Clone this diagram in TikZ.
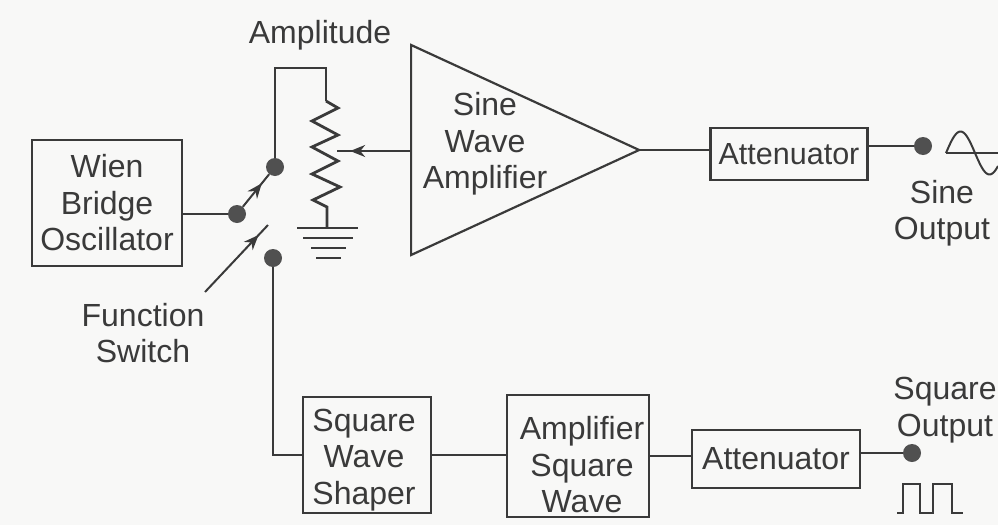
\documentclass[tikz,border=0pt]{standalone}
\usepackage{fontspec}
\setmainfont{Liberation Sans}
\usepackage{tikz}
\usetikzlibrary{calc,shapes.geometric,arrows.meta,decorations.markings}
\definecolor{inkgray}{HTML}{3A3A3A}
\definecolor{dotgray}{HTML}{505050}
\definecolor{papergray}{HTML}{F8F8F7}
\tikzstyle{wire} = [line width=2pt, draw=inkgray]
\tikzstyle{block} = [rectangle, draw=inkgray, line width=2.2pt, inner sep=0pt, align=center, text=inkgray]
\tikzstyle{label} = [align=center, inner sep=0pt, text=inkgray]
\tikzstyle{terminal} = [circle, fill=dotgray, minimum size=18pt, inner sep=0pt]
\tikzstyle{midtip} = [postaction={decorate}, decoration={markings, mark=at position #1 with {\arrow{Stealth[length=15pt,width=12pt]}}}]

\begin{document}
\begin{tikzpicture}[x=1pt, y=-1pt, font=\fontsize{32}{36.5}\selectfont]
                \fill [papergray] (0,0) rectangle (998,525);
                \useasboundingbox (0,0) rectangle (998,525);

                \node (wien) [block, minimum width=150pt, minimum height=126pt] at (107,203) {Wien\\Bridge\\Oscillator};
                \node (shaper) [block, minimum width=128pt, minimum height=116pt] at (367,455) {};
                \node (ampsq) [block, minimum width=142pt, minimum height=122pt] at (578,456) {};
                \node (attsq) [block, minimum width=168pt, minimum height=58pt] at (776,459) {Attenuator};
                \node (attsin) [block, minimum width=157pt, minimum height=52pt, font=\fontsize{30.5}{36}\selectfont] at (789,154) {Attenuator};
                \node (ampsin) [isosceles triangle, isosceles triangle stretches, draw=inkgray, line width=2.2pt, minimum width=210pt, minimum height=228pt, inner sep=0pt, anchor=apex] at (642,150) {};

                \node (common) [terminal] at (237,214) {};
                \node (upper) [terminal] at (275,167) {};
                \node (lower) [terminal] at (273,258) {};
                \node (sinout) [terminal] at (923,146) {};
                \node (squout) [terminal] at (912,453) {};

                \node (amplitude) [label] at (320,35) {Amplitude};
                \node (sinetext) [label] at (485,144) {Sine\\Wave\\Amplifier};
                \node (shapertext) [label] at (364,460) {Square\\Wave\\Shaper};
                \node (ampsqtext) [label] at (582,465) {Amplifier\\Square\\Wave};
                \node (function) [label] at (143,333) {Function\\Switch};
                \node (sinelabel) [label] at (942,213) {Sine\\Output};
                \node (squlabel) [label] at (945,410) {Square\\Output};

                \coordinate (rtop) at (326,68);
                \coordinate (gnd) at (327,228);
                \coordinate (wiper) at (337,151);
                \coordinate (pointer) at (205,292);
                \coordinate (blade) at (268,225);

                \draw [wire] (wien.east |- common) -- (common);
                \draw [wire, midtip=0.72] (common) -- (upper);
                \draw [wire] (upper) |- (rtop) -- ++(0,33);
                \draw [wire, line width=2.8pt] ($(rtop)+(0,33)$) -- ++(12,7) -- ++(-26,13) -- ++(26,14) -- ++(-26,12) -- ++(26,14) -- ++(-26,13) -- ++(28,13) -- ++(-27,13) -- ++(14,7) -- (gnd);
                \draw [wire, midtip=0.82] (ampsin.lower side |- wiper) -- (wiper);
                \draw [wire, midtip=0.85] (pointer) -- (blade);
                \draw [wire] (lower) |- (shaper.west);
                \draw [wire] (shaper.east) -- (ampsq.west |- shaper.east);
                \draw [wire] (ampsq.east) -- (attsq.west |- ampsq.east);
                \draw [wire] (attsq.east |- squout) -- (squout);
                \draw [wire, shorten <=-3pt] (ampsin.apex) -- (attsin.west |- ampsin.apex);
                \draw [wire] (attsin.east |- sinout) -- (sinout);

                % ground
                \draw [wire] ($(gnd)+(-30,0)$) -- ($(gnd)+(31,0)$);
                \draw [wire] ($(gnd)+(-24,10)$) -- ($(gnd)+(26,10)$);
                \draw [wire] ($(gnd)+(-16,20)$) -- ($(gnd)+(19,20)$);
                \draw [wire] ($(gnd)+(-11,30)$) -- ($(gnd)+(14,30)$);

                % output waves
                \draw [wire] (946,153) -- (998,153);
                \draw [wire, domain=0:52, samples=60, smooth] plot ({946+\x}, {153-21.5*sin(6.207*\x)});
                \draw [wire] (897,513) -- (903,513) -- (903,484) -- (920,484) -- (920,513) -- (933,513) -- (933,484) -- (952,484) -- (952,513) -- (963,513);
            \end{tikzpicture}
\end{document}
